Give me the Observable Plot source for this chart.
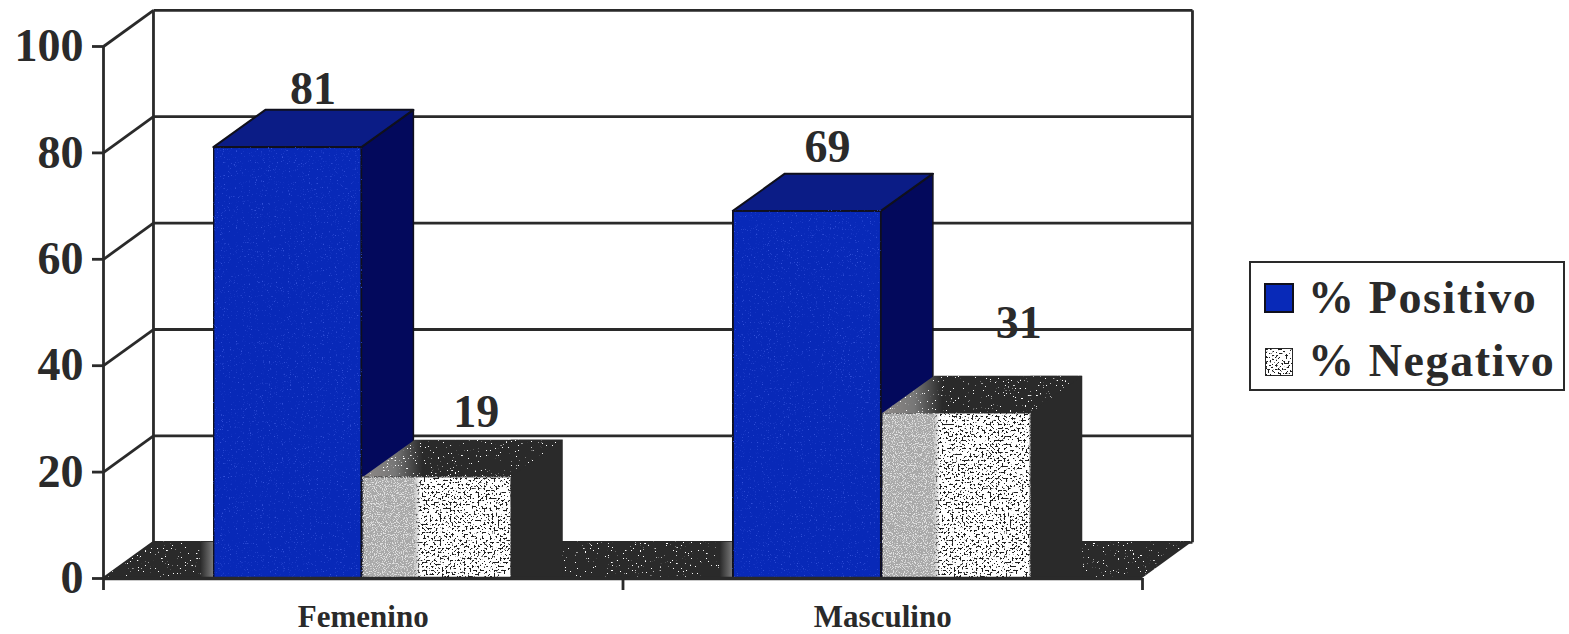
<!DOCTYPE html>
<html lang="es">
<head>
<meta charset="utf-8">
<title>Resultado por sexo</title>
<script src="https://cdn.jsdelivr.net/npm/d3@7"></script>
<script src="https://cdn.jsdelivr.net/npm/@observablehq/plot@0.6"></script>
<style>
  html, body { margin: 0; background: #fff; }
  #chart { position: relative; width: 1569px; height: 634px; overflow: hidden; }
  #chart svg.plot { display: block; }
  .legend { position: absolute; left: 1249px; top: 261px; width: 312px; height: 126px;
            border: 2.8px solid #2a2a2a; background: #fff; font: bold 46px "Liberation Serif", serif; color: #2a2a2a; }
  .legend div { position: absolute; left: 57px; white-space: nowrap; line-height: 50px; letter-spacing: 1.6px; }
  .legend svg { position: absolute; left: 13px; }
</style>
</head>
<body>
<svg width="0" height="0" style="position:absolute">
  <defs>
    <!-- Printed-grain textures layered over the flat fills -->
    <filter id="grain-blue" x="0" y="0" width="1" height="1" color-interpolation-filters="sRGB">
      <feTurbulence type="fractalNoise" baseFrequency="0.85" numOctaves="2" seed="4"/>
      <feColorMatrix type="matrix" values="0 0 0 0 0.2  0 0 0 0 0.32  0 0 0 0 0.85  6 0 0 0 -3.9"/>
      <feComposite in2="SourceAlpha" operator="in" result="s"/>
      <feMerge><feMergeNode in="SourceGraphic"/><feMergeNode in="s"/></feMerge>
    </filter>
    <filter id="speckle-dark" x="0" y="0" width="1" height="1" color-interpolation-filters="sRGB">
      <feTurbulence type="fractalNoise" baseFrequency="0.5" numOctaves="3" seed="11"/>
      <feColorMatrix type="matrix" values="0 0 0 0 0.12  0 0 0 0 0.12  0 0 0 0 0.12  16 0 0 0 -9"/>
      <feComposite in2="SourceAlpha" operator="in" result="s"/>
      <feMerge><feMergeNode in="SourceGraphic"/><feMergeNode in="s"/></feMerge>
    </filter>
    <filter id="speckle-light" x="0" y="0" width="1" height="1" color-interpolation-filters="sRGB">
      <feTurbulence type="fractalNoise" baseFrequency="0.6" numOctaves="2" seed="23"/>
      <feColorMatrix type="matrix" values="0 0 0 0 1  0 0 0 0 1  0 0 0 0 1  22 0 0 0 -15.8"/>
      <feComposite in2="SourceAlpha" operator="in" result="s"/>
      <feMerge><feMergeNode in="SourceGraphic"/><feMergeNode in="s"/></feMerge>
    </filter>
    <filter id="grain-grey" x="0" y="0" width="1" height="1" color-interpolation-filters="sRGB">
      <feTurbulence type="fractalNoise" baseFrequency="0.9" numOctaves="1" seed="7"/>
      <feColorMatrix type="matrix" values="0 0 0 0 0.88  0 0 0 0 0.88  0 0 0 0 0.88  9 0 0 0 -4.6"/>
      <feComposite in2="SourceAlpha" operator="in" result="s"/>
      <feMerge><feMergeNode in="SourceGraphic"/><feMergeNode in="s"/></feMerge>
    </filter>
    <linearGradient id="face-shade">
      <stop offset="0" stop-color="#a8a8a8"/>
      <stop offset="0.34" stop-color="#a8a8a8"/>
      <stop offset="0.39" stop-color="#b5b5b5" stop-opacity="0"/>
    </linearGradient>
    <linearGradient id="top-shade">
      <stop offset="0" stop-color="#8f8a88"/>
      <stop offset="0.16" stop-color="#777"/>
      <stop offset="0.30" stop-color="#2a2a2a"/>
    </linearGradient>
    <linearGradient id="floor-shade">
      <stop offset="0" stop-color="#2a2a2a"/>
      <stop offset="1" stop-color="#7c7c7c"/>
    </linearGradient>
  </defs>
</svg>
<div id="chart"></div>
<script>
// Resultado positivo / negativo (%) por sexo
const categories = ["Femenino", "Masculino"];
const positivo = [81, 69];
const negativo = [19, 31];
const yTicks = [0, 20, 40, 60, 80, 100];
const xTicks = [0, 1, 2];

// Depth of the box and of the bars, expressed in scale units
const wallDepth = {x: 0.0962, y: 6.8};
const barDepth = {x: 0.1, y: 7};
const barWidth = 0.285;
const offsetPositivo = 0.2125;
const offsetNegativo = 0.5;

const ink = "#2a2a2a";
const edge = "#10101c";
const serif = "Liberation Serif";
const lineWidth = 2.8;

// A quadrilateral face from its two parallel edges
const face = (a, b, options) => Plot.area([a, b], {
  x1: "x1", x2: "x2", y1: "y1", y2: "y2", ...options
});

const rectangle = (x1, x2, y1, y2, options) => Plot.rect([{x1, x2, y1, y2}], {
  x1: "x1", x2: "x2", y1: "y1", y2: "y2", ...options
});

function barTop(x0, value, options) {
  const x1 = x0 + barWidth;
  return face({x1: x0, y1: value, x2: x1, y2: value},
    {x1: x0 + barDepth.x, y1: value + barDepth.y, x2: x1 + barDepth.x, y2: value + barDepth.y}, options);
}

const positivoBars = positivo.map((v, i) => {
  const x0 = i + offsetPositivo, x1 = x0 + barWidth;
  return [
    face({x1: x1, y1: 0, x2: x1, y2: v},
         {x1: x1 + barDepth.x, y1: barDepth.y, x2: x1 + barDepth.x, y2: v + barDepth.y},
         {fill: "#03095c", stroke: edge, strokeWidth: 1.5}),
    barTop(x0, v, {fill: "#0b1c86", stroke: edge, strokeWidth: 2}),
    rectangle(x0, x1, 0, v, {fill: "#0829b8", stroke: edge, strokeWidth: 2, imageFilter: "url(#grain-blue)"})
  ];
});

const negativoBars = negativo.map((v, i) => {
  const x0 = i + offsetNegativo, x1 = x0 + barWidth;
  return [
    // The dark side merges with its shadow on the floor
    rectangle(x1, x1 + barDepth.x, 0, v + barDepth.y, {fill: ink}),
    barTop(x0, v, {fill: "url(#top-shade)", imageFilter: "url(#speckle-light)"}),
    rectangle(x0, x1, 0, v, {fill: "#fff", imageFilter: "url(#speckle-dark)"}),
    rectangle(x0, x1, 0, v, {fill: "url(#face-shade)", imageFilter: "url(#grain-grey)", stroke: ink, strokeWidth: 1.5, strokeOpacity: 0.6})
  ];
});

const valueLabel = (x, value, dx, dy) => Plot.text([value], {
  x: () => x, y: (d) => d + barDepth.y, text: (d) => String(d), dx, dy,
  lineAnchor: "bottom", fontSize: 46, fontWeight: "bold", fontFamily: serif, fill: ink
});

const chart = Plot.plot({
  width: 1569,
  height: 634,
  marginLeft: 103,
  marginRight: 427,
  marginTop: 46,
  marginBottom: 56,
  style: {background: "#fff", overflow: "visible", color: ink},
  x: {domain: [0, 2], label: null},
  y: {domain: [0, 100], label: null},
  marks: [
    // Side wall and back wall of the box
    Plot.link(yTicks, {x1: () => 0, x2: () => wallDepth.x, y1: (t) => t, y2: (t) => t + wallDepth.y, stroke: ink, strokeWidth: lineWidth}),
    Plot.link(yTicks, {x1: () => wallDepth.x, x2: () => 2 + wallDepth.x, y1: (t) => t + wallDepth.y, y2: (t) => t + wallDepth.y, stroke: ink, strokeWidth: lineWidth}),
    Plot.link([wallDepth.x, 2 + wallDepth.x], {x1: (x) => x, x2: (x) => x, y1: () => wallDepth.y, y2: () => 100 + wallDepth.y, stroke: ink, strokeWidth: lineWidth}),
    Plot.ruleX([0], {y1: 0, y2: 100, stroke: ink, strokeWidth: lineWidth}),
    // Floor
    face({x1: 0, y1: 0, x2: 2, y2: 0},
         {x1: wallDepth.x, y1: wallDepth.y, x2: 2 + wallDepth.x, y2: wallDepth.y},
         {fill: ink, imageFilter: "url(#speckle-light)"}),
    Plot.rect(categories, {
      x1: (d, i) => i + offsetPositivo - 0.025, x2: (d, i) => i + offsetPositivo,
      y1: () => 0, y2: () => wallDepth.y, fill: "url(#floor-shade)"
    }),
    // Bars, back to front within each pair
    positivoBars[0], negativoBars[0],
    positivoBars[1], negativoBars[1],
    Plot.ruleY([0], {x1: 0, x2: 2, stroke: ink, strokeWidth: 3.5}),
    // Value labels
    valueLabel(offsetPositivo + (barWidth + barDepth.x) / 2, positivo[0], -1, -6),
    valueLabel(1 + offsetPositivo + (barWidth + barDepth.x) / 2, positivo[1], -6, -12),
    valueLabel(offsetNegativo + (barWidth + barDepth.x) / 2, negativo[0], 13, -13),
    valueLabel(1 + offsetNegativo + (barWidth + barDepth.x) / 2, negativo[1], 36, -38),
    // Axes
    Plot.axisY({anchor: "left", ticks: yTicks, tickSize: 11, tickPadding: 9, strokeWidth: lineWidth, stroke: ink,
      fontSize: 46, fontWeight: "bold", fontFamily: serif, label: null, tickFormat: (d) => String(d)}),
    Plot.axisX({anchor: "bottom", ticks: xTicks, tickSize: 12, strokeWidth: lineWidth, stroke: ink, tickFormat: () => "", label: null}),
    Plot.text(categories, {
      x: (d, i) => i + 0.5, y: () => 0, text: (d) => d, dy: 39,
      fontSize: 31, fontWeight: "bold", fontFamily: serif, fill: ink
    })
  ]
});

const host = document.getElementById("chart");
host.append(chart);

// Legend, drawn beside the plot
const legend = document.createElement("div");
legend.className = "legend";
legend.innerHTML = `
  <svg width="30" height="30" style="top:20px"><rect x="1" y="1" width="28" height="28" fill="#0829b8" stroke="${edge}" stroke-width="2"/></svg>
  <div style="top:10px">% Positivo</div>
  <svg width="30" height="30" style="top:84px"><rect x="1" y="1" width="28" height="28" fill="#fff" stroke="${ink}" stroke-width="2" filter="url(#speckle-dark)"/></svg>
  <div style="top:73px">% Negativo</div>`;
host.append(legend);
</script>
</body>
</html>
